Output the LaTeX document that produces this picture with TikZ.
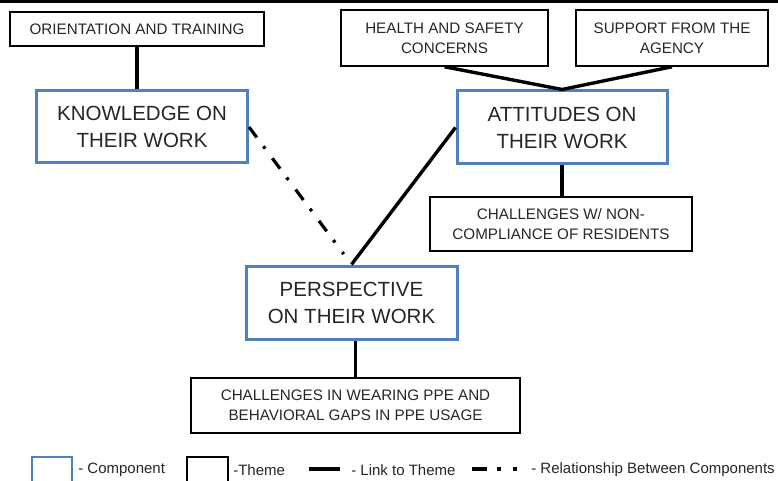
\documentclass[tikz,border=0pt]{standalone}
\usepackage{fontspec}
\setmainfont{Liberation Sans}
\usetikzlibrary{positioning}
\definecolor{compblue}{RGB}{79,129,189}

\begin{document}
\begin{tikzpicture}[x=1pt,y=-1pt,semithick]
\tikzstyle{comp}=[draw=compblue,line width=3pt,align=center,inner sep=0pt,minimum width=211pt,minimum height=72pt,font=\fontsize{20.5}{27}\selectfont,text=black!85]
\tikzstyle{theme}=[draw=black,line width=1.5pt,align=center,inner sep=0pt,font=\fontsize{15.2}{20}\selectfont,text=black!85]
\tikzstyle{legtext}=[anchor=west,inner sep=0pt,font=\fontsize{15}{18}\selectfont,text=black!85]
\tikzstyle{link}=[line width=3.4pt]
\tikzstyle{relation}=[line width=3.2pt,dash pattern=on 13pt off 11pt on 3pt off 12pt]
\useasboundingbox (0,0) rectangle (778,481);
\draw[line width=3pt] (0,1.5) -- (778,1.5);

% themes
\node[theme,minimum width=254pt,minimum height=34pt] (orient) at (137,29) {ORIENTATION AND TRAINING};
\node[theme,minimum width=207pt,minimum height=56pt] (health) at (444.5,38) {HEALTH AND SAFETY\\CONCERNS};
\node[theme,minimum width=192pt,minimum height=56pt] (support) at (672,38) {SUPPORT FROM THE\\AGENCY};
\node[theme,minimum width=262pt,minimum height=54pt] (noncomp) at (561,224) {CHALLENGES W/ NON-\\COMPLIANCE OF RESIDENTS};
\node[theme,minimum width=329pt,minimum height=55pt] (ppe) at (355.5,405.5) {CHALLENGES IN WEARING PPE AND\\BEHAVIORAL GAPS IN PPE USAGE};

% components
\node[comp] (know) at (142,127) {KNOWLEDGE ON\\THEIR WORK};
\node[comp,minimum width=210pt,minimum height=73pt] (att) at (562,127.5) {ATTITUDES ON\\THEIR WORK};
\node[comp,minimum height=73pt] (persp) at (351.5,302.5) {PERSPECTIVE\\ON THEIR WORK};

% links
\draw[link] (orient.south) -- (orient.south |- know.north);
\draw[link] (health.south) -- (att.north);
\draw[link] (support.south) -- (att.north);
\draw[link] (att.south) -- (noncomp.north -| att.south);
\draw[link] (att.west) -- (persp.north);
\draw[link] (ppe.north) -- (ppe.north |- persp.south);
\draw[relation,shorten >=13pt] (know.east) -- (persp.north);

% legend
\node[draw=compblue,line width=1.5pt,minimum width=40pt,minimum height=26pt,inner sep=0pt] (lcomp) at (52,470) {};
\node[legtext] (tcomp) at (78,470) {- Component};
\node[draw=black,line width=1.5pt,minimum width=41pt,minimum height=26pt,inner sep=0pt] (ltheme) at (207.5,470) {};
\node[legtext] (ttheme) at (233,470) {-Theme};
\coordinate (l1) at (309,469);
\coordinate (l2) at (340,469);
\draw[line width=4pt] (l1) -- (l2);
\node[legtext] (tlink) at (351,470) {- Link to Theme};
\coordinate (r1) at (472,469);
\coordinate (r2) at (521,469);
\draw[line width=4pt,dash pattern=on 15pt off 10pt on 4pt off 12pt on 4pt off 20pt] (r1) -- (r2);
\node[legtext] (trel) at (531,470) {- Relationship Between Components};
\end{tikzpicture}
\end{document}
